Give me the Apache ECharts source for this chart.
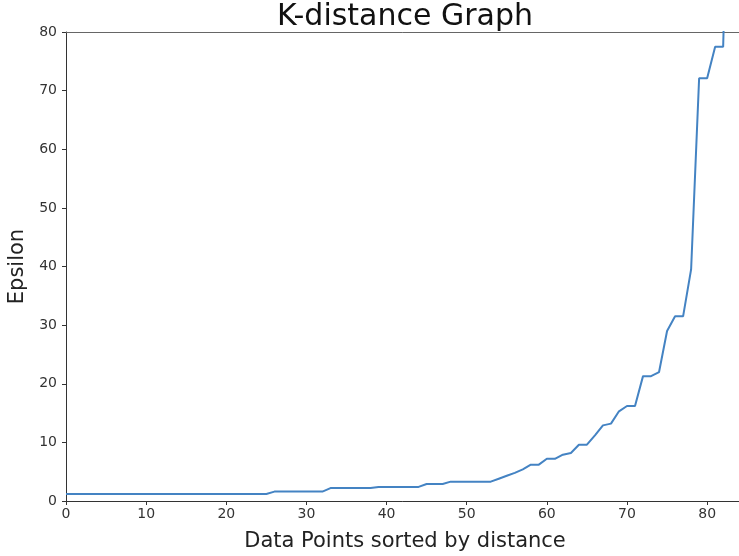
<!DOCTYPE html>
<html>
<head>
<meta charset="utf-8">
<script src="https://cdn.jsdelivr.net/npm/echarts@6/dist/echarts.min.js"></script>
<style>
  html, body { margin: 0; padding: 0; background: #fff; }
  #main { width: 739px; height: 556px; }
</style>
</head>
<body>
<div id="main"></div>
<script>
// sorted k-distances (index = data point rank)
var distances = [
  1.2, 1.2, 1.2, 1.2, 1.2, 1.2, 1.2, 1.2, 1.2, 1.2,
  1.2, 1.2, 1.2, 1.2, 1.2, 1.2, 1.2, 1.2, 1.2, 1.2,
  1.2, 1.2, 1.2, 1.2, 1.2, 1.2, 1.6, 1.6, 1.6, 1.6,
  1.6, 1.6, 1.6, 2.2, 2.2, 2.2, 2.2, 2.2, 2.2, 2.4,
  2.4, 2.4, 2.4, 2.4, 2.4, 2.9, 2.9, 2.9, 3.3, 3.3,
  3.3, 3.3, 3.3, 3.3, 3.8, 4.3, 4.8, 5.4, 6.2, 6.2,
  7.2, 7.2, 7.9, 8.2, 9.6, 9.6, 11.2, 12.9, 13.2, 15.3,
  16.2, 16.2, 21.3, 21.3, 22.0, 29.0, 31.5, 31.5, 39.5, 72.1,
  72.1, 77.5, 77.5, 130
];
var xTicks = [0, 10, 20, 30, 40, 50, 60, 70, 80];
var yTicks = [0, 10, 20, 30, 40, 50, 60, 70, 80];

var points = distances.map(function (d, i) { return [i, d]; });

var chart = echarts.init(document.getElementById('main'));
var axisColor = '#333';
chart.setOption({
  animation: false,
  textStyle: { fontFamily: 'DejaVu Sans' },
  title: {
    text: 'K-distance Graph',
    left: 272,
    top: -3,
    textStyle: { fontFamily: 'DejaVu Sans', fontSize: 30, fontWeight: 'normal', color: '#111' }
  },
  grid: {
    left: 66, width: 678, top: 32, bottom: 55,
    outerBoundsMode: 'none'
  },
  xAxis: [{
    type: 'value',
    min: 0,
    max: 84.6,
    interval: 10,
    name: 'Data Points sorted by distance',
    nameLocation: 'middle',
    nameGap: 30,
    nameTextStyle: { fontSize: 21, color: '#222' },
    axisLine: { lineStyle: { color: axisColor } },
    axisTick: { show: true, length: 4, lineStyle: { color: axisColor }, customValues: xTicks },
    axisLabel: { color: '#333', fontSize: 14, margin: 6, customValues: xTicks },
    splitLine: { show: false }
  }, {
    // top spine only
    type: 'value',
    position: 'top',
    min: 0,
    max: 84.6,
    axisLine: { show: true, lineStyle: { color: '#666' } },
    axisTick: { show: false },
    axisLabel: { show: false },
    splitLine: { show: false }
  }],
  yAxis: {
    type: 'value',
    min: 0,
    max: 80,
    interval: 10,
    name: 'Epsilon',
    nameLocation: 'middle',
    nameGap: 31,
    nameTextStyle: { fontSize: 21, color: '#222' },
    axisLine: { show: true, lineStyle: { color: axisColor } },
    axisTick: { show: true, length: 4, lineStyle: { color: axisColor } },
    axisLabel: { color: '#333', fontSize: 14, margin: 9, customValues: yTicks },
    splitLine: { show: false }
  },
  series: [{
    type: 'line',
    data: points,
    showSymbol: false,
    clip: true,
    lineStyle: { color: '#4483c3', width: 2 },
    itemStyle: { color: '#4483c3' }
  }]
});
</script>
</body>
</html>
